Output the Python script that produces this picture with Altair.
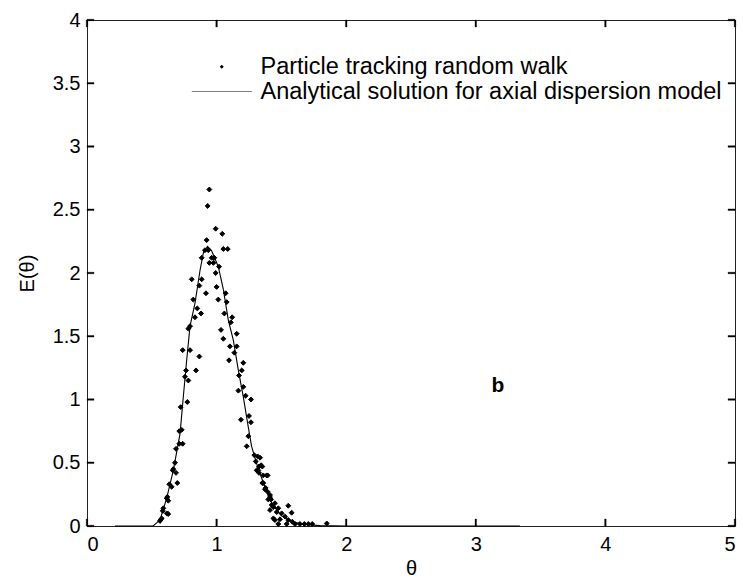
import altair as alt
import pandas as pd

# ---------------- data ----------------
pt_theta = [0.563, 0.569, 0.576, 0.584, 0.589, 0.615, 0.615, 0.627, 0.627, 0.620,
            0.635, 0.653, 0.661, 0.666, 0.679, 0.687, 0.697, 0.687, 0.712, 0.738,
            0.712, 0.731, 0.723, 0.774, 0.756, 0.782, 0.764, 0.841, 0.738, 0.795,
            0.867, 0.782, 0.795, 0.833, 0.880, 0.851, 0.820, 0.918, 0.867, 0.808,
            0.885, 0.944, 0.885, 0.910, 0.936, 0.923, 0.931, 0.944,
            0.993, 1.044, 1.052, 1.086, 0.962, 0.982, 0.975, 1.019, 0.993, 1.000,
            1.070, 1.013, 1.078, 1.060, 1.120, 1.110, 1.034, 1.155, 1.052, 1.103,
            1.155, 1.137, 1.096, 1.206, 1.194, 1.173, 1.168, 1.206, 1.224, 1.265,
            1.188, 1.250, 1.265, 1.245, 1.232, 1.291, 1.317, 1.335, 1.302, 1.343,
            1.327, 1.353, 1.309, 1.322, 1.327, 1.360, 1.386, 1.394, 1.360, 1.353,
            1.379, 1.373, 1.394, 1.412, 1.412, 1.399, 1.420, 1.450, 1.425, 1.438,
            1.553, 1.476, 1.412, 1.464, 1.502, 1.579, 1.528, 1.438, 1.489, 1.553,
            1.450, 1.584, 1.476, 1.541, 1.605, 1.643, 1.677, 1.708, 1.738, 1.850]
pt_E = [0.04, 0.05, 0.06, 0.12, 0.14, 0.10, 0.22, 0.095, 0.20, 0.23,
        0.33, 0.31, 0.44, 0.45, 0.50, 0.42, 0.34, 0.61, 0.65, 0.65,
        0.75, 0.76, 0.94, 0.98, 1.18, 1.15, 1.23, 1.23, 1.39, 1.39,
        1.34, 1.56, 1.58, 1.65, 1.68, 1.72, 1.79, 1.84, 1.90, 1.95,
        1.95, 2.08, 2.12, 2.18, 2.18, 2.26, 2.53, 2.66,
        2.35, 2.31, 2.19, 2.19, 2.12, 2.12, 2.08, 2.05, 2.00, 1.89,
        1.84, 1.79, 1.77, 1.68, 1.65, 1.61, 1.55, 1.52, 1.48, 1.42,
        1.42, 1.37, 1.31, 1.29, 1.23, 1.19, 1.07, 1.10, 1.03, 1.00,
        0.84, 0.87, 0.82, 0.71, 0.63, 0.56, 0.55, 0.54, 0.51, 0.48,
        0.47, 0.47, 0.44, 0.44, 0.42, 0.40, 0.40, 0.40, 0.34, 0.34,
        0.30, 0.29, 0.27, 0.245, 0.23, 0.21, 0.21, 0.18, 0.166, 0.15,
        0.16, 0.14, 0.126, 0.11, 0.10, 0.105, 0.074, 0.06, 0.053, 0.047,
        0.047, 0.034, 0.016, 0.016, 0.016, 0.016, 0.016, 0.016, 0.016, 0.02]

line_theta = [0.216, 0.45, 0.51, 0.563, 0.615, 0.666, 0.718, 0.743, 0.769, 0.795,
              0.833, 0.872, 0.898, 0.930, 0.960, 1.013, 1.052, 1.090, 1.129, 1.168,
              1.206, 1.240, 1.270, 1.322, 1.373, 1.425, 1.50, 1.60, 1.70, 1.80,
              2.00, 3.34]
line_E = [0.0, 0.0, 0.0, 0.047, 0.22, 0.44, 0.73, 1.02, 1.31, 1.58,
          1.76, 2.02, 2.16, 2.21, 2.18, 2.05, 1.87, 1.63, 1.47, 1.23,
          1.02, 0.81, 0.63, 0.45, 0.31, 0.18, 0.08, 0.03, 0.01, 0.003,
          0.0, 0.0]

series_names = ["Particle tracking random walk",
                "Analytical solution for axial dispersion model"]
x_ticks = [0, 1, 2, 3, 4, 5]
y_ticks = [0, 0.5, 1, 1.5, 2, 2.5, 3, 3.5, 4]
x_min, x_max = 0, 5
y_min, y_max = 0, 4
annot_theta = [3.17]
annot_E = [1.11]
annot_text = ["b"]

# ---------------- style ----------------
W, H = 648, 506
FONT = "Liberation Sans"
AX = "#222222"
TICK = 7
SYM_SIZE = 16
r = (SYM_SIZE ** 0.5) / 2
half = 30 / r
th = 0.25 / r
line_path = f"M-{half:.2f},-{th:.3f}L{half:.2f},-{th:.3f}L{half:.2f},{th:.3f}L-{half:.2f},{th:.3f}Z"

# tick glyphs as small filled rectangles (custom symbol paths, size 4 -> unit = 1px)
tw = 0.8
tick_up = f"M-{tw},0L{tw},0L{tw},-{TICK}L-{tw},-{TICK}Z"
tick_down = f"M-{tw},0L{tw},0L{tw},{TICK}L-{tw},{TICK}Z"
tick_right = f"M0,-{tw}L{TICK},-{tw}L{TICK},{tw}L0,{tw}Z"
tick_left = f"M0,-{tw}L-{TICK},-{tw}L-{TICK},{tw}L0,{tw}Z"

pts = pd.DataFrame({"theta": pt_theta, "E": pt_E, "series": series_names[0]})
ana = pd.DataFrame({"theta": line_theta, "E": line_E})
lab = pd.DataFrame({"theta": annot_theta, "E": annot_E, "t": annot_text})
xt_b = pd.DataFrame({"theta": x_ticks, "E": [y_min] * len(x_ticks)})
xt_t = pd.DataFrame({"theta": x_ticks, "E": [y_max] * len(x_ticks)})
yt_l = pd.DataFrame({"theta": [x_min] * len(y_ticks), "E": y_ticks})
yt_r = pd.DataFrame({"theta": [x_max] * len(y_ticks), "E": y_ticks})

xs = alt.Scale(domain=[x_min, x_max], nice=False, zero=False)
ys = alt.Scale(domain=[y_min, y_max], nice=False, zero=False)

x_axis = alt.Axis(
    orient="bottom", values=x_ticks, format="~g", ticks=False, tickSize=0, domain=False,
    grid=False, labelPadding=8, labelFont=FONT, labelFontSize=20,
    labelColor="black", title="θ", titleFont=FONT, titleFontSize=20,
    titleFontWeight="normal", titleColor="black", titlePadding=4)
y_axis = alt.Axis(
    orient="left", values=y_ticks, format="~g", ticks=False, tickSize=0,
    domain=False, grid=False, labelPadding=7, labelFont=FONT, labelFontSize=20,
    labelColor="black", title="E(θ)", titleFont=FONT, titleFontSize=20,
    titleFontWeight="normal", titleColor="black", titleX=-60, titleY=H / 2,
    titleBaseline="middle", titleAngle=270)

X = alt.X("theta:Q", scale=xs, axis=x_axis)
Y = alt.Y("E:Q", scale=ys, axis=y_axis)

line_layer = alt.Chart(ana).mark_line(color="black", strokeWidth=1.1).encode(x=X, y=Y)

point_layer = alt.Chart(pts).mark_point(
    filled=True, fill="black", stroke="black", strokeWidth=1, size=24, opacity=1
).encode(
    x=X, y=Y,
    shape=alt.Shape("series:N", scale=alt.Scale(domain=series_names, range=["diamond", line_path]),
                    legend=alt.Legend(orient="none", legendX=123, legendY=35, title=None,
                                      padding=0, labelOffset=27, labelFont=FONT,
                                      labelFontSize=23.5, labelColor="black",
                                      symbolSize=SYM_SIZE, symbolStrokeColor="black",
                                      symbolStrokeWidth=1, symbolFillColor="black",
                                      rowPadding=0, labelLimit=0)),
)

text_layer = alt.Chart(lab).mark_text(font=FONT, fontSize=21, fontWeight="bold",
                                      color="black", align="center", baseline="middle").encode(
    x=X, y=Y, text="t:N")


def tick_layer(df, path):
    return alt.Chart(df).mark_point(filled=True, fill="black", stroke="black",
                                    strokeWidth=0.3, shape=path, size=4,
                                    opacity=1).encode(x=X, y=Y)


chart = alt.layer(line_layer, point_layer, text_layer,
                  tick_layer(xt_b, tick_up), tick_layer(xt_t, tick_down),
                  tick_layer(yt_l, tick_right), tick_layer(yt_r, tick_left)).properties(
    width=W, height=H, autosize=alt.AutoSizeParams(type="none"),
    padding={"left": 87, "top": 20, "right": 8, "bottom": 62},
    background="white",
).configure_view(stroke=AX, strokeWidth=1)

chart.save("out.html", embed_options={"renderer": "svg", "actions": False})
